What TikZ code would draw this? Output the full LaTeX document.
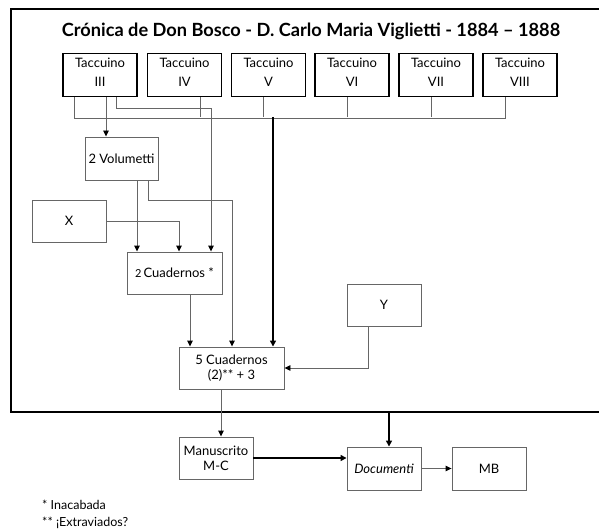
\documentclass[tikz,border=0pt]{standalone}
\usepackage{fontspec}
\setmainfont{Lato}
\usetikzlibrary{arrows.meta}
\definecolor{linegray}{HTML}{666666}
\tikzset{
  box/.style={draw=linegray, line width=0.9pt, minimum width=74pt, minimum height=42pt, inner sep=1pt, align=center, font=\fontsize{13}{15}\selectfont},
  tacbox/.style={draw=black, line width=1.8pt, minimum width=74pt, minimum height=43pt, inner sep=0pt, align=center, font=\fontsize{13}{19}\selectfont},
  conn/.style={draw=linegray, line width=0.9pt},
  arr/.style={conn, -{Triangle[length=6pt,width=5.5pt,color=black]}},
  thickarr/.style={draw=black, line width=1.8pt, -{Triangle[length=6pt,width=6pt]}},
  frame/.style={draw=black, line width=2.2pt},
  note/.style={font=\fontsize{12.5}{14}\selectfont, anchor=west, inner sep=0pt}
}
\begin{document}
\begin{tikzpicture}[x=1pt,y=-1pt]
\useasboundingbox (0,0) rectangle (599,529);
% frame
\draw[frame] (600,9) -- (11,9) -- (11,412) -- (600,412);
\coordinate (fb) at (389,412);
% title
\node[font=\bfseries\fontsize{18.2}{20}\selectfont] (title) at (311,31) {Crónica de Don Bosco - D. Carlo Maria Viglietti - 1884 – 1888};
% taccuini
\node[tacbox] (t3) at (100,75) {Taccuino\\III\\[-13pt]\mbox{}};
\node[tacbox] (t4) at (184.5,75) {Taccuino\\IV\\[-13pt]\mbox{}};
\node[tacbox] (t5) at (268.5,75) {Taccuino\\V\\[-13pt]\mbox{}};
\node[tacbox] (t6) at (352,75) {Taccuino\\VI\\[-13pt]\mbox{}};
\node[tacbox] (t7) at (436,75) {Taccuino\\VII\\[-13pt]\mbox{}};
\node[tacbox] (t8) at (520,75) {Taccuino\\VIII\\[-13pt]\mbox{}};
% boxes
\node[box, minimum width=73pt, minimum height=43pt] (vol) at (121.5,158.5) {2 Volumetti};
\node[box] (bx) at (69,221) {X};
\node[box, minimum width=95pt] (c2) at (174.5,273) {{\fontsize{11}{13}\selectfont 2}\,Cuadernos *};
\node[box] (by) at (384,305) {Y};
\node[box, minimum width=105pt] (c5) at (231.5,368) {5 Cuadernos\\(2)** + 3};
\node[box] (man) at (216,458) {Manuscrito\\M-C};
\node[box, minimum height=43pt] (doc) at (384,468.5) {\itshape Documenti};
\node[box, minimum height=43pt] (mb) at (489,468.5) {MB};
% notes
\node[note] (n1) at (42,505) {* Inacabada};
\node[note] (n2) at (42,523) {** ¡Extraviados?};
% bus
\draw[conn] ([xshift=-26pt]t3.south) -- ++(0,21) -| ([xshift=-15pt]t8.south);
\coordinate (bus) at (0,117);
\draw[conn] ([xshift=15.5pt]t4.south) -- ([xshift=15.5pt]t4.south |- bus);
\draw[conn] ([xshift=-5pt]t5.south) -- ([xshift=-5pt]t5.south |- bus);
\draw[conn] ([xshift=-5pt]t6.south) -- ([xshift=-5pt]t6.south |- bus);
\draw[conn] ([xshift=-5pt]t7.south) -- ([xshift=-5pt]t7.south |- bus);
\draw[thickarr] ([xshift=41.5pt]c5.north |- bus) -- ([xshift=41.5pt]c5.north);
% Taccuino III
\draw[arr] ([xshift=6pt]t3.south) -- ([xshift=6pt]t3.south |- vol.north);
\draw[arr] ([xshift=16pt]t3.south) -- ++(0,11) -| ([xshift=36.5pt]c2.north);
% Volumetti
\draw[arr] ([xshift=15.5pt]vol.south) -- ([xshift=15.5pt]vol.south |- c2.north);
\draw[arr] ([xshift=26.5pt]vol.south) -- ++(0,20) -| ([xshift=0.5pt]c5.north);
% X
\draw[arr] (bx.east) -| ([xshift=4.5pt]c2.north);
% 2 Cuadernos
\draw[arr] ([xshift=15.5pt]c2.south) -- ([xshift=15.5pt]c2.south |- c5.north);
% Y
\draw[arr] ([xshift=-16pt]by.south) |- (c5.east);
% 5 Cuadernos
\draw[arr] ([xshift=-10.5pt]c5.south) -- ([xshift=-10.5pt]c5.south |- man.north);
% bottom
\draw[thickarr] (man.east) -- (man.east -| doc.west);
\draw[thickarr] (fb) -- (fb |- doc.north);
\draw[arr] (doc.east) -- (mb.west);
\end{tikzpicture}
\end{document}
